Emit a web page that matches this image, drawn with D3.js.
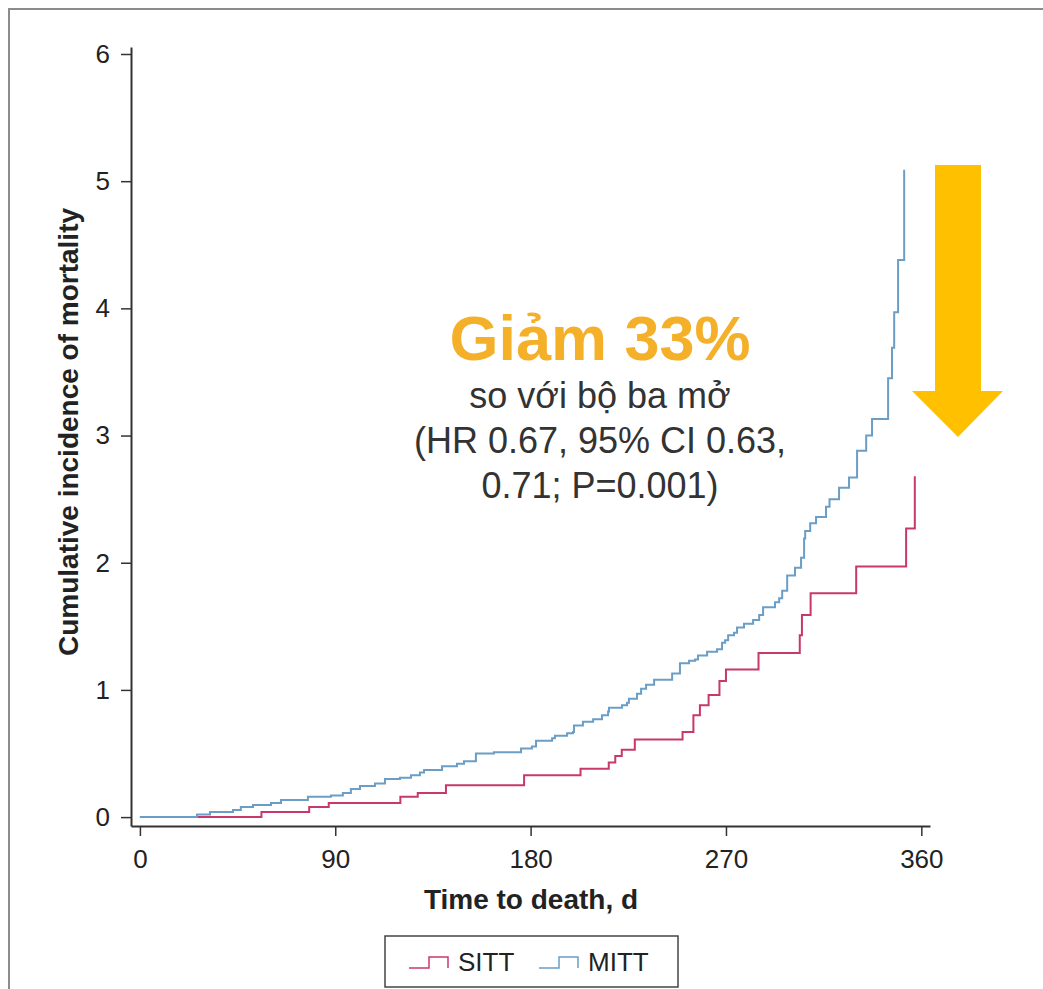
<!DOCTYPE html>
<html>
<head>
<meta charset="utf-8">
<script src="https://cdn.jsdelivr.net/npm/d3@7"></script>
<style>
  html, body { margin: 0; padding: 0; background: #fff; }
  svg { display: block; font-family: "Liberation Sans", Arial, sans-serif; }
</style>
</head>
<body>
<svg id="chart" width="1043" height="989"></svg>
<script>

// cumulative incidence steps, [day, value]
var sitt = [
  [0, 0], [56, 0.04], [78, 0.08], [87, 0.11], [120, 0.16], [128, 0.19],
  [141, 0.25], [177, 0.33], [203, 0.38], [216, 0.43], [219, 0.48], [222, 0.53],
  [228, 0.61], [250, 0.67], [255, 0.80], [258, 0.88], [262, 0.96], [267, 1.07],
  [270, 1.16], [285, 1.29], [304, 1.43], [305, 1.59], [309, 1.76], [330, 1.97],
  [353, 2.27], [357, 2.68]
];

var mitt = [
  [0, 0], [26.3, 0.02], [32.3, 0.04], [42.9, 0.055], [46.5, 0.08], [52.1, 0.095],
  [60.4, 0.11], [65, 0.135], [77.4, 0.16], [88, 0.17], [93.5, 0.19], [97.2, 0.22],
  [101.4, 0.245], [108.3, 0.265], [112.9, 0.30], [119.8, 0.31], [124.9, 0.33],
  [129, 0.35], [130.9, 0.37], [139.2, 0.40], [146.1, 0.42], [149.3, 0.44],
  [154.8, 0.50], [163.1, 0.51], [175.6, 0.54], [180.6, 0.555], [182.5, 0.60],
  [189.9, 0.62], [191.2, 0.64], [196.8, 0.66], [199.5, 0.67], [200, 0.72],
  [204.1, 0.75], [208.8, 0.77], [212.9, 0.80], [215.7, 0.83], [216.1, 0.86],
  [222.1, 0.88], [224.4, 0.90], [225.3, 0.93], [229, 0.97], [230.9, 1.01],
  [233.2, 1.04], [236.9, 1.08], [245.2, 1.13], [248.8, 1.21], [253, 1.23],
  [255.8, 1.24], [257.1, 1.27], [261.3, 1.30], [265.9, 1.32], [268.2, 1.37],
  [269.6, 1.39], [271, 1.43], [273.7, 1.45], [275.1, 1.49], [278.3, 1.52],
  [282.5, 1.55], [285.3, 1.59], [287.1, 1.65], [292.6, 1.69], [294.5, 1.72],
  [295.9, 1.78], [298.2, 1.90], [301.8, 1.96], [304.6, 2.04], [306, 2.19],
  [306.5, 2.25], [308.8, 2.31], [311.5, 2.36], [316.1, 2.44], [317.7, 2.50],
  [322.1, 2.59], [326.7, 2.67], [330.4, 2.88], [334.6, 3.00], [337.3, 3.13],
  [344.7, 3.45], [346.5, 3.69], [347.5, 3.97], [349.3, 4.38], [352.1, 5.09]
];

var xTicks = [0, 90, 180, 270, 360],
    yTicks = [0, 1, 2, 3, 4, 5, 6];

var seriesNames = ["SITT", "MITT"],
    seriesColors = ["#c8386a", "#6a9ec6"];

var noteTitle = "Giảm 33%",
    noteLines = ["so với bộ ba mở", "(HR 0.67, 95% CI 0.63,", "0.71; P=0.001)"];


var svg = d3.select("#chart");

// outer frame (only left and top edges are in view)
svg.append("path")
    .attr("d", "M9,989V9H1043")
    .attr("fill", "none")
    .attr("stroke", "#8c8c8c")
    .attr("stroke-width", 2);

// scales; domains padded a bit like the stata plot region
var x = d3.scaleLinear().domain([-4.1, 364]).range([131, 930]),
    y = d3.scaleLinear().domain([-0.07, 6.055]).range([826, 47]);

var axisColor = "#333";

// x axis
var gx = svg.append("g")
    .attr("transform", "translate(0,826)")
    .call(d3.axisBottom(x).tickValues(xTicks).tickSizeInner(10).tickSizeOuter(0).tickPadding(10));

// y axis
var gy = svg.append("g")
    .attr("transform", "translate(131,0)")
    .call(d3.axisLeft(y).tickValues(yTicks).tickFormat(d3.format("d"))
            .tickSizeInner(10).tickSizeOuter(0).tickPadding(11));

[gx, gy].forEach(function(g) {
  g.select(".domain").attr("stroke", axisColor).attr("stroke-width", 2);
  g.selectAll(".tick line").attr("stroke", axisColor).attr("stroke-width", 1.5);
  g.selectAll(".tick text")
      .attr("fill", "#222")
      .attr("font-size", "26px")
      .attr("font-family", "'Liberation Sans', Arial, sans-serif");
});
gx.selectAll(".tick text").attr("dy", "0.85em");

// axis titles
svg.append("text")
    .attr("x", 531)
    .attr("y", 909)
    .attr("text-anchor", "middle")
    .attr("font-size", "28px")
    .attr("font-weight", "bold")
    .attr("fill", "#222")
    .text("Time to death, d");

svg.append("text")
    .attr("transform", "translate(78,432) rotate(-90)")
    .attr("text-anchor", "middle")
    .attr("font-size", "28px")
    .attr("font-weight", "bold")
    .attr("fill", "#222")
    .text("Cumulative incidence of mortality");

// step lines
var line = d3.line()
    .x(function(d) { return x(d[0]); })
    .y(function(d) { return y(d[1]); })
    .curve(d3.curveStepAfter);

// red drawn first so the blue sits on top where they overlap near zero
[sitt, mitt].forEach(function(data, i) {
  svg.append("path")
      .datum(data)
      .attr("d", line)
      .attr("fill", "none")
      .attr("stroke", seriesColors[i])
      .attr("stroke-width", 2)
      .attr("stroke-linejoin", "miter");
});

// annotation text
var note = svg.append("g").attr("text-anchor", "middle");
note.append("text")
    .attr("x", 600)
    .attr("y", 360)
    .attr("font-size", "63px")
    .attr("font-weight", "bold")
    .attr("fill", "#f5b02a")
    .text(noteTitle);
note.selectAll("text.sub")
    .data(noteLines)
  .enter().append("text")
    .attr("class", "sub")
    .attr("x", 600)
    .attr("y", function(d, i) { return 408 + i * 45; })
    .attr("font-size", "36px")
    .attr("fill", "#333")
    .text(function(d) { return d; });

// big yellow arrow pointing down
svg.append("path")
    .attr("d", "M935,165H981V391H1003L958,437L912,391H935Z")
    .attr("fill", "#ffc000");

// legend
var legend = svg.append("g");
legend.append("rect")
    .attr("x", 385)
    .attr("y", 936)
    .attr("width", 293)
    .attr("height", 51)
    .attr("fill", "#fff")
    .attr("stroke", "#444")
    .attr("stroke-width", 1.5);

var keyX = [409, 539];
var item = legend.selectAll("g.item")
    .data(seriesNames)
  .enter().append("g")
    .attr("class", "item")
    .attr("transform", function(d, i) { return "translate(" + keyX[i] + ",0)"; });

item.append("path")
    .attr("d", "M0,968H20V957H39V968")
    .attr("fill", "none")
    .attr("stroke", function(d, i) { return seriesColors[i]; })
    .attr("stroke-width", 1.5);

item.append("text")
    .attr("x", 49)
    .attr("y", 971)
    .attr("font-size", "26px")
    .attr("fill", "#222")
    .text(function(d) { return d; });

</script>
</body>
</html>
